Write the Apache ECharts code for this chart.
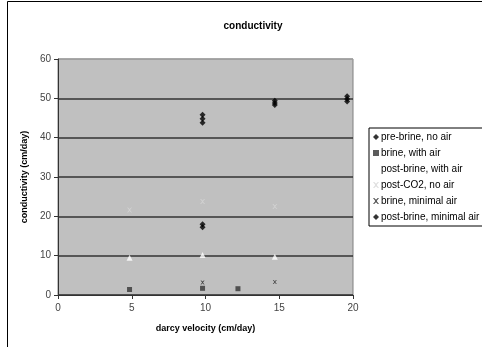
<!DOCTYPE html>
<html>
<head>
<meta charset="utf-8">
<script src="https://cdn.jsdelivr.net/npm/echarts@6/dist/echarts.min.js"></script>
<style>
html,body{margin:0;padding:0;background:#fff;}
#c{width:482px;height:347px;}
</style>
</head>
<body>
<div id="c"></div>
<script>
// ---- data ----
var seriesNames = ['pre-brine, no air','brine, with air','post-brine, with air','post-CO2, no air','brine, minimal air','post-brine, minimal air'];
var preBrineNoAirX = [9.8, 9.8, 9.8, 14.7, 14.7, 14.7, 19.6, 19.6, 19.6];
var preBrineNoAirY = [43.8, 44.8, 45.8, 48.3, 48.8, 49.4, 49.2, 49.8, 50.5];
var brineWithAirX = [4.85, 9.8, 12.2];
var brineWithAirY = [1.4, 1.7, 1.6];
var postBrineWithAirX = [4.85, 9.8, 14.7];
var postBrineWithAirY = [9.5, 10.2, 9.7];
var postCO2NoAirX = [4.85, 9.8, 14.7];
var postCO2NoAirY = [21.6, 23.8, 22.5];
var brineMinimalAirX = [9.8, 14.7];
var brineMinimalAirY = [3.2, 3.3];
var postBrineMinimalAirX = [9.8, 9.8];
var postBrineMinimalAirY = [17.2, 18.0];
var xTicks = [0, 5, 10, 15, 20];
var yTicks = [0, 10, 20, 30, 40, 50, 60];

function pairs(xs, ys){ return xs.map(function(x,i){ return [x, ys[i]]; }); }
var xPath = 'path://M0,0L2,0L5,3L8,0L10,0L6,5L10,10L8,10L5,7L2,10L0,10L4,5Z';

var font = '"Liberation Sans", Arial, sans-serif';
var chart = echarts.init(document.getElementById('c'), null, {renderer:'canvas'});
var option = {
  animation: false,
  backgroundColor: '#fff',
  title: {
    text: 'conductivity', left: 248, top: 16, textAlign: 'center',
    textStyle: {fontFamily: font, fontSize: 10, fontWeight: 'bold', color: '#000'}
  },
  graphic: [{
    type: 'rect', shape: {x: 7.5, y: 1.5, width: 520, height: 400},
    style: {fill: 'none', stroke: '#000', lineWidth: 1}, silent: true, z: -1
  }],
  legend: {
    orient: 'vertical', left: 369, top: 128,
    borderColor: '#000', borderWidth: 1,
    padding: [4, 40, 4, 4],
    itemGap: 6, itemWidth: 6, itemHeight: 6,
    textStyle: {fontFamily: font, fontSize: 10, color: '#000', padding: [0,0,0,-3]},
    data: seriesNames
  },
  grid: {
    left: 58, right: 129, top: 59, bottom: 52,
    show: true, backgroundColor: '#c0c0c0', borderColor: '#808080', borderWidth: 1
  },
  xAxis: {
    type: 'value', min: 0, max: 20, interval: 5,
    name: 'darcy velocity (cm/day)', nameLocation: 'middle', nameGap: 29,
    nameTextStyle: {fontFamily: font, fontSize: 9, fontWeight: 'bold', color: '#000'},
    axisLine: {lineStyle: {color: '#333', width: 1}},
    axisTick: {show: true, inside: false, length: 4, lineStyle: {color: '#333'}},
    axisLabel: {fontFamily: font, fontSize: 10, color: '#444', margin: 8,
      formatter: function(v){ return xTicks.indexOf(v) >= 0 ? String(v) : ''; }},
    splitLine: {show: false}
  },
  yAxis: {
    type: 'value', min: 0, max: 60, interval: 10,
    name: 'conductivity (cm/day)', nameLocation: 'middle', nameGap: 26, nameRotate: 90,
    nameTextStyle: {fontFamily: font, fontSize: 9, fontWeight: 'bold', color: '#000'},
    axisLine: {show: true, lineStyle: {color: '#333', width: 1}},
    axisTick: {show: true, inside: false, length: 4, lineStyle: {color: '#333'}},
    axisLabel: {fontFamily: font, fontSize: 10, color: '#444', margin: 7,
      formatter: function(v){ return yTicks.indexOf(v) >= 0 ? String(v) : ''; }},
    splitLine: {show: true, lineStyle: {color: ['#333','#333','#333','#333','#333','#333','#a0a0a0'], width: 1.5}}
  },
  series: [
    {name: seriesNames[0], type: 'scatter', symbol: 'diamond', symbolSize: 6,
     itemStyle: {color: '#000'}, data: pairs(preBrineNoAirX, preBrineNoAirY)},
    {name: seriesNames[1], type: 'scatter', symbol: 'rect', symbolSize: 5,
     itemStyle: {color: '#333'}, data: pairs(brineWithAirX, brineWithAirY)},
    {name: seriesNames[2], type: 'scatter', symbol: 'triangle', symbolSize: 6,
     itemStyle: {color: '#fff'}, data: pairs(postBrineWithAirX, postBrineWithAirY)},
    {name: seriesNames[3], type: 'scatter', symbol: xPath, symbolSize: 5,
     itemStyle: {color: '#d4d4d4'}, data: pairs(postCO2NoAirX, postCO2NoAirY)},
    {name: seriesNames[4], type: 'scatter', symbol: xPath, symbolSize: 4,
     itemStyle: {color: '#222'}, data: pairs(brineMinimalAirX, brineMinimalAirY)},
    {name: seriesNames[5], type: 'scatter', symbol: 'diamond', symbolSize: 6,
     itemStyle: {color: '#000'}, data: pairs(postBrineMinimalAirX, postBrineMinimalAirY)}
  ]
};
chart.setOption(option);
</script>
</body>
</html>
